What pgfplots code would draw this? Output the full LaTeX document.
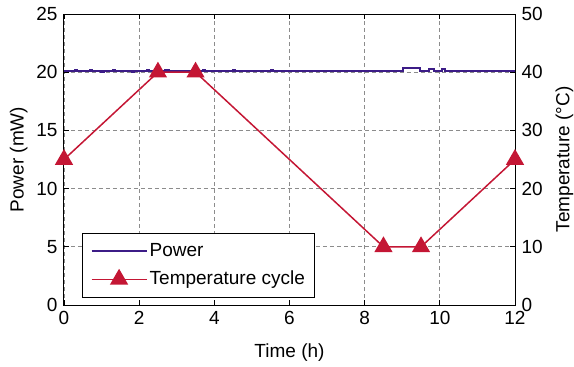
\documentclass[border=0pt]{standalone}
\usepackage{pgfplots}
\pgfplotsset{compat=1.18}
\usepackage{fontspec}
\setmainfont{Liberation Sans}
\definecolor{powc}{RGB}{60,28,135}
\definecolor{tempc}{RGB}{196,22,52}
\begin{document}
\fontsize{19}{22}\selectfont
\begin{tikzpicture}[x=1pt,y=1pt]
\useasboundingbox (-64,-62) rectangle (510,305);
\begin{axis}[
  at={(0,0)}, anchor=south west,
  scale only axis, width=451pt, height=291pt,
  xmin=0, xmax=12, ymin=0, ymax=25,
  xtick={0,2,...,12}, ytick={0,5,...,25},
  ytick pos=left,
  grid=major,
  grid style={dashed, gray!90, dash pattern=on 4pt off 3pt, line width=0.8pt},
  axis line style={line width=1pt},
  major tick length=5pt,
  tick style={black, line width=0.8pt},
  /pgf/number format/assume math mode=true,
  ticklabel style={font=\fontsize{19}{22}\selectfont},
  label style={font=\fontsize{19}{22}\selectfont},
  xlabel={Time (h)}, ylabel={Power (mW)},
  xlabel style={yshift=-6pt},
  ylabel style={yshift=-4pt},
  legend cell align=left,
  legend style={at={(0.04,0.024)}, anchor=south west, draw=black, line width=0.9pt,
    font=\fontsize{19}{22}\selectfont, row sep=8pt, inner xsep=8pt, inner ysep=8pt},
  legend image code/.code={\draw[#1] (0pt,0pt) -- (55pt,0pt);
    \path[#1, mark repeat=1] plot coordinates {(27.5pt,0pt)};},
]
\addplot[const plot, color=powc, line width=2.2pt, mark=none] coordinates {
(0,20.1) (0.3,20.15) (0.35,20.1) (0.7,20.15) (0.75,20.1) (1.0,20.0) (1.05,20.1)
(1.3,20.15) (1.35,20.1) (1.8,20.0) (1.85,20.1) (2.2,20.15) (2.25,20.1)
(2.7,20.15) (2.8,20.1) (3.7,20.15) (3.75,20.1) (4.5,20.15) (4.55,20.1)
(5.5,20.15) (5.55,20.1) (6.5,20.1) (7.5,20.12) (8.0,20.1)
(9.01,20.35) (9.47,20.12) (9.71,20.3) (9.85,20.12) (10.05,20.3) (10.14,20.12)
(11.0,20.12) (12,20.12)
};
\addlegendentry{Power}
\addlegendimage{color=tempc, line width=1.5pt, mark=triangle*, mark size=9pt, mark options={fill=tempc}}
\addlegendentry{Temperature cycle}
\end{axis}
\begin{axis}[
  at={(0,0)}, anchor=south west,
  scale only axis, width=451pt, height=291pt,
  xmin=0, xmax=12, ymin=0, ymax=50,
  ytick={0,10,...,50},
  axis y line*=right, axis x line=none,
  axis line style={line width=1pt},
  major tick length=5pt,
  tick style={black, line width=0.8pt},
  /pgf/number format/assume math mode=true,
  ticklabel style={font=\fontsize{19}{22}\selectfont},
  label style={font=\fontsize{19}{22}\selectfont},
  ylabel={Temperature (°C)},
  clip=false,
]
\addplot[color=tempc, line width=1.5pt, mark=triangle*, mark size=9pt, mark options={fill=tempc}] coordinates {
(0,25) (2.5,40) (3.5,40) (8.5,10) (9.5,10) (12,25)
};
\end{axis}
\end{tikzpicture}
\end{document}
